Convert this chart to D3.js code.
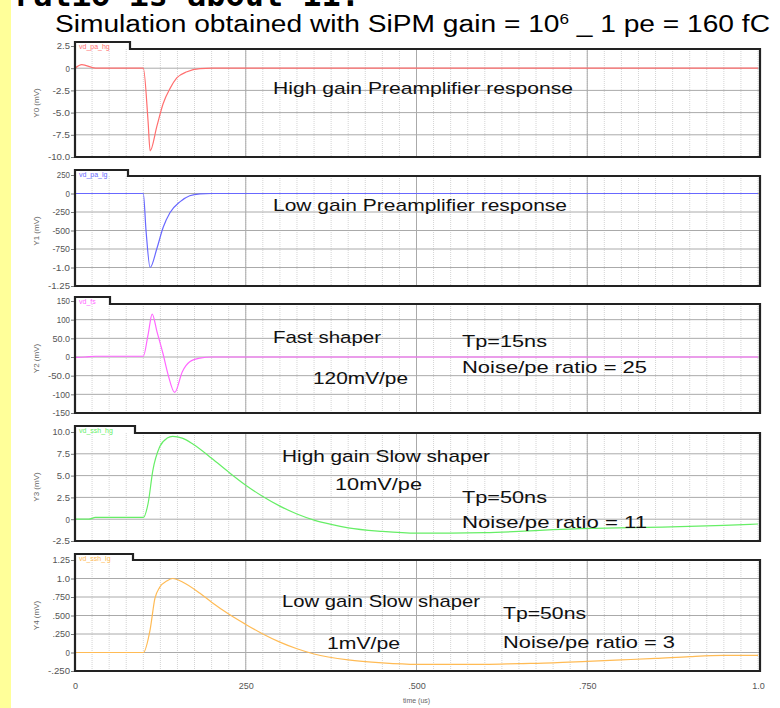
<!DOCTYPE html>
<html>
<head>
<meta charset="utf-8">
<script src="https://cdn.jsdelivr.net/npm/d3@7"></script>
<style>
  body { margin: 0; background: #fff; }
  svg { display: block; }
  .tick text { font-family: "Liberation Sans", sans-serif; fill: #555; }
</style>
</head>
<body>
<svg id="chart" width="780" height="708"></svg>
<script>
// ---- data (time in us) ----
const xTicks = [0, 0.25, 0.5, 0.75, 1.0];
const xTickLabels = ["0", "250", ".500", ".750", "1.0"];

// panel 1 : high gain preamp (mV)
const t0 = [0, 0.01, 0.03, 0.1, 0.107, 0.11, 0.12, 0.129, 0.139, 0.149, 0.164, 0.183, 0.2, 1.0];
const v0 = [0, 0.4, 0, 0, -6, -9.3, -6.5, -4.0, -2.3, -1.1, -0.4, -0.05, 0, 0];
const y0Ticks = [2.5, 0, -2.5, -5, -7.5, -10];
const y0Labels = ["2.5", "0", "-2.5", "-5.0", "-7.5", "-10.0"];

// panel 2 : low gain preamp (V)
const t1 = [0, 0.1, 0.104, 0.11, 0.12, 0.129, 0.139, 0.154, 0.168, 0.183, 0.2, 1.0];
const v1 = [0, 0, -0.5, -1.0, -0.74, -0.46, -0.26, -0.11, -0.03, -0.005, 0, 0];
const y1Ticks = [0.25, 0, -0.25, -0.5, -0.75, -1.0, -1.25];
const y1Labels = ["250", "0", "-250", "-500", "-750", "-1.0", "-1.25"];

// panel 3 : fast shaper (mV)
const t2 = [0, 0.015, 0.03, 0.1, 0.107, 0.113, 0.12, 0.129, 0.136, 0.146, 0.157, 0.168, 0.183, 0.2, 1.0];
const v2 = [-1, 0, 2, 2, 60, 115, 68, 8, -45, -95, -40, -13, -3, 0, 0];
const y2Ticks = [150, 100, 50, 0, -50, -100, -150];
const y2Labels = ["150", "100", "50.0", "0", "-50.0", "-100", "-150"];

// panel 4 : high gain slow shaper (mV)
const t3 = [0, 0.02, 0.03, 0.1, 0.107, 0.114, 0.124, 0.135, 0.143, 0.157, 0.173, 0.2, 0.225, 0.25, 0.275,
            0.3, 0.325, 0.35, 0.375, 0.4, 0.45, 0.5, 0.55, 0.6, 0.65, 0.7, 0.76, 0.86, 0.95, 1.0];
const v3 = [0, 0, 0.2, 0.2, 1.8, 5.6, 8.3, 9.3, 9.5, 9.3, 8.6, 7.0, 5.4, 3.9, 2.6,
            1.5, 0.6, -0.1, -0.6, -1.0, -1.4, -1.6, -1.6, -1.55, -1.4, -1.2, -1.05, -0.9, -0.7, -0.55];
const y3Ticks = [10, 7.5, 5, 2.5, 0, -2.5];
const y3Labels = ["10.0", "7.5", "5.0", "2.5", "0", "-2.5"];

// panel 5 : low gain slow shaper (V)
const t4 = [0, 0.1, 0.11, 0.117, 0.124, 0.135, 0.143, 0.158, 0.183, 0.2, 0.225, 0.25, 0.275, 0.3,
            0.325, 0.35, 0.4, 0.45, 0.5, 0.55, 0.6, 0.65, 0.7, 0.75, 0.8, 0.85, 0.9, 0.95, 1.0];
const v4 = [0, 0, 0.31, 0.73, 0.88, 0.97, 1.0, 0.95, 0.8, 0.68, 0.52, 0.38, 0.25, 0.14,
            0.05, -0.02, -0.1, -0.14, -0.16, -0.16, -0.16, -0.15, -0.14, -0.12, -0.1, -0.08, -0.055, -0.04, -0.04];
const y4Ticks = [1.25, 1.0, 0.75, 0.5, 0.25, 0, -0.25];
const y4Labels = ["1.25", "1.0", ".750", ".500", ".250", "0", "-.250"];

const seriesNames = ["vd_pa_hg", "vd_pa_lg", "vd_fs", "vd_ssh_hg", "vd_ssh_lg"];
const axisNames = ["Y0 (mV)", "Y1 (mV)", "Y2 (mV)", "Y3 (mV)", "Y4 (mV)"];

// ---- layout ----
const svg = d3.select("#chart");
const left = 75, right = 758, frameRight = 760;
const x = d3.scaleLinear().domain([0, 1]).range([left, right]);

const panels = [
  {t: t0, v: v0, ticks: y0Ticks, labels: y0Labels, dom: [-10, 2.5], rng: [157, 46], tabTop: 42, top: 49, tabW: 55, color: "#ff6f6f"},
  {t: t1, v: v1, ticks: y1Ticks, labels: y1Labels, dom: [-1.25, 0.25], rng: [286, 175], tabTop: 170, top: 176, tabW: 53, color: "#6868ff"},
  {t: t2, v: v2, ticks: y2Ticks, labels: y2Labels, dom: [-150, 150], rng: [413, 301], tabTop: 297, top: 304, tabW: 35, color: "#ff66ff"},
  {t: t3, v: v3, ticks: y3Ticks, labels: y3Labels, dom: [-2.5, 10], rng: [541, 432], tabTop: 426, top: 433, tabW: 60, color: "#66ee66"},
  {t: t4, v: v4, ticks: y4Ticks, labels: y4Labels, dom: [-0.25, 1.25], rng: [671, 560], tabTop: 554, top: 560, tabW: 58, color: "#ffbb55"}
];

// yellow strip on the slide's left edge
svg.append("rect").attr("x", 0).attr("y", 0).attr("width", 11).attr("height", 708).attr("fill", "#ffff99");

// cut-off line of slide text above
svg.append("text").attr("x", 14).attr("y", 6)
  .style("font-family", "DejaVu Sans Mono").style("font-weight", "bold").style("font-size", "32px")
  .attr("textLength", 346).attr("lengthAdjust", "spacingAndGlyphs")
  .text("ratio is about 11.");

// title
const title = svg.append("text").attr("x", 55).attr("y", 32)
  .style("font-family", "Liberation Sans Narrow, Liberation Sans, sans-serif").style("font-size", "23px")
  .attr("textLength", 715).attr("lengthAdjust", "spacingAndGlyphs");
title.append("tspan").text("Simulation obtained with SiPM gain = 10");
title.append("tspan").attr("dy", -8).style("font-size", "14px").text("6");
title.append("tspan").attr("dy", 8).text(" _ 1 pe = 160 fC");

const minorTicks = d3.range(0, 1.0001, 0.025);

panels.forEach((p, i) => {
  const y = d3.scaleLinear().domain(p.dom).range(p.rng);
  const g = svg.append("g");
  const bottom = p.rng[0];

  // minor vertical grid
  g.selectAll(".vminor").data(minorTicks).join("line")
    .attr("x1", d => x(d)).attr("x2", d => x(d)).attr("y1", p.top).attr("y2", bottom)
    .attr("stroke", "#d4d4d4").attr("stroke-dasharray", "1,1");
  // major vertical grid
  g.selectAll(".vmajor").data(xTicks.slice(1, 4)).join("line")
    .attr("x1", d => x(d)).attr("x2", d => x(d)).attr("y1", p.top).attr("y2", bottom)
    .attr("stroke", "#aaa");
  // horizontal grid
  g.selectAll(".hgrid").data(p.ticks.filter(d => y(d) > p.top + 1 && y(d) < bottom - 1)).join("line")
    .attr("x1", left).attr("x2", frameRight).attr("y1", d => y(d)).attr("y2", d => y(d))
    .attr("stroke", "#aaa");

  // curve
  const line = d3.line().x((d, k) => x(p.t[k])).y(d => y(d)).curve(d3.curveMonotoneX);
  g.append("path").datum(p.v).attr("d", line)
    .attr("fill", "none").attr("stroke", p.color).attr("stroke-width", 1.2);

  // frame with tab
  g.append("path")
    .attr("d", `M${left},${bottom} V${p.tabTop} H${left + p.tabW} V${p.top} H${frameRight} V${bottom} Z`)
    .attr("fill", "none").attr("stroke", "#222").attr("stroke-width", 2.2);
  g.append("text").attr("x", left + 4).attr("y", p.tabTop + 7)
    .style("font-family", "Liberation Sans, sans-serif").style("font-size", "7px")
    .attr("fill", p.color).text(seriesNames[i]);

  // y axis
  const ax = g.append("g").attr("transform", `translate(${left - 1},0)`)
    .call(d3.axisLeft(y).tickValues(p.ticks).tickFormat((d, k) => p.labels[k]).tickSize(3).tickPadding(1));
  ax.select(".domain").remove();
  ax.selectAll(".tick line").attr("stroke", "#777");
  ax.selectAll(".tick text").style("font-size", "9px")
    .attr("textLength", function () { return this.textContent.length * 4.4; })
    .attr("lengthAdjust", "spacingAndGlyphs");

  g.append("text")
    .attr("transform", `translate(${39},${(p.top + bottom) / 2}) rotate(-90)`)
    .attr("text-anchor", "middle")
    .style("font-family", "Liberation Sans, sans-serif").style("font-size", "8px").attr("fill", "#666")
    .text(axisNames[i]);

  // x axis under the last panel
  if (i === panels.length - 1) {
    const xa = g.append("g").attr("transform", `translate(0,${bottom + 8})`)
      .call(d3.axisBottom(x).tickValues(xTicks).tickFormat((d, k) => xTickLabels[k]).tickSize(0).tickPadding(4));
    xa.select(".domain").remove();
    xa.selectAll(".tick text").style("font-size", "9px");
    g.append("text").attr("x", x(0.5)).attr("y", 703).attr("text-anchor", "middle")
      .style("font-family", "Liberation Sans, sans-serif").style("font-size", "7px").attr("fill", "#666")
      .text("time (us)");
  }
});

// annotations
const notes = [
  {s: "High gain Preamplifier response", x: 273, y: 94, w: 300},
  {s: "Low gain Preamplifier response", x: 273, y: 211, w: 294},
  {s: "Fast shaper", x: 273, y: 343, w: 108},
  {s: "Tp=15ns", x: 462, y: 347, w: 85},
  {s: "Noise/pe ratio = 25", x: 462, y: 373, w: 185},
  {s: "120mV/pe", x: 313, y: 384, w: 95},
  {s: "High gain Slow shaper", x: 282, y: 462, w: 208},
  {s: "10mV/pe", x: 335, y: 490, w: 87},
  {s: "Tp=50ns", x: 462, y: 503, w: 85},
  {s: "Noise/pe ratio = 11", x: 462, y: 528, w: 185},
  {s: "Low gain Slow shaper", x: 282, y: 607, w: 198},
  {s: "Tp=50ns", x: 503, y: 619, w: 83},
  {s: "1mV/pe", x: 327, y: 649, w: 73},
  {s: "Noise/pe ratio = 3", x: 503, y: 648, w: 172}
];
svg.selectAll(".note").data(notes).join("text")
  .attr("class", "note")
  .attr("x", d => d.x).attr("y", d => d.y)
  .attr("textLength", d => d.w).attr("lengthAdjust", "spacingAndGlyphs")
  .style("font-family", "Liberation Sans Narrow, Liberation Sans, sans-serif").style("font-size", "17px")
  .attr("fill", "#111")
  .text(d => d.s);
</script>
</body>
</html>
